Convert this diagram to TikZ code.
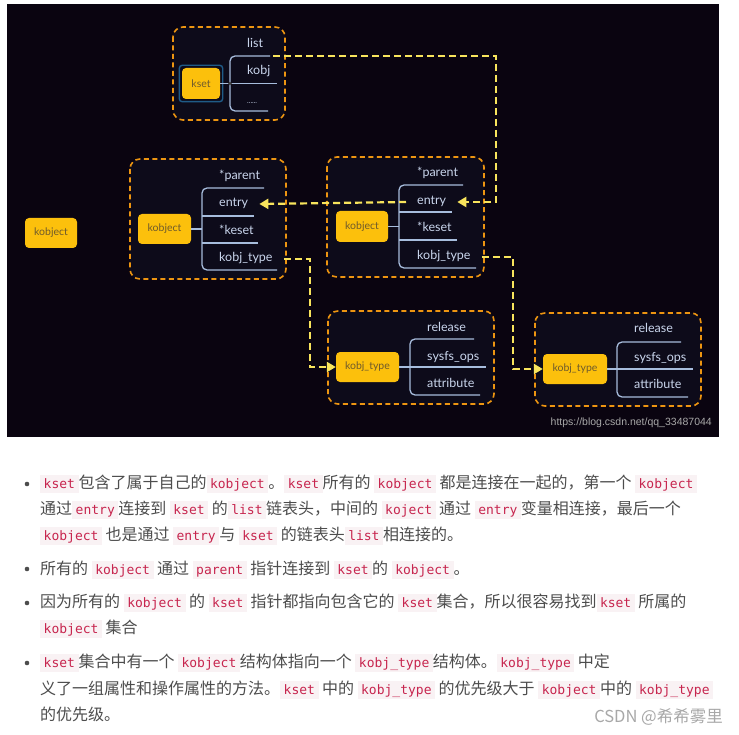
\documentclass[tikz,border=0pt]{standalone}
\usepackage{fontspec}
\setmainfont{Noto Sans CJK SC}
\setmonofont{DejaVu Sans Mono}
\newfontfamily\diagfont{Lato}
\newfontfamily\urlfont{Liberation Sans}
\usetikzlibrary{arrows.meta}

\definecolor{bgdark}{HTML}{0A0410}
\definecolor{grpfill}{HTML}{0D0B1A}
\definecolor{grporange}{HTML}{ED9511}
\definecolor{itemyellow}{HTML}{FCC00C}
\definecolor{itemtext}{HTML}{6E5A2C}
\definecolor{treeblue}{HTML}{A7BDDD}
\definecolor{fieldtext}{HTML}{C9D5EC}
\definecolor{linkyellow}{HTML}{F8E45C}
\definecolor{selblue}{HTML}{1F5B87}
\definecolor{bodytext}{HTML}{4D4D4D}
\definecolor{codebg}{HTML}{F9F2F4}
\definecolor{codefg}{HTML}{C7254E}
\definecolor{wmgray}{HTML}{A8A8A8}

\newcommand{\codeword}[1]{{\setlength{\fboxsep}{0pt}\colorbox{codebg}{\hspace{3.5pt}\rule[-4.5pt]{0pt}{18pt}\textcolor{codefg}{\ttfamily\fontsize{13}{14}\selectfont #1}\hspace{3.5pt}}}}

\begin{document}
\begin{tikzpicture}[x=1pt, y=-1pt,
    group/.style={draw=grporange, fill=grpfill, line width=1.6pt, dash pattern=on 5pt off 3.5pt, rounded corners=10pt},
    item/.style={fill=itemyellow, text=itemtext, rounded corners=4pt, inner sep=0pt, font=\diagfont\fontsize{10.5}{12}\selectfont},
    field/.style={anchor=west, text=fieldtext, inner sep=1pt, text height=9pt, text depth=3pt, font=\diagfont\fontsize{12.5}{14}\selectfont},
    tree/.style={draw=treeblue, line width=1.3pt, rounded corners=5pt},
    link/.style={draw=linkyellow, line width=2.2pt, dash pattern=on 7pt off 4pt, -{Triangle[length=9pt,width=10pt]}},
    line/.style={anchor=west, text=bodytext, inner sep=0pt, text height=14pt, text depth=2pt, font=\fontsize{16}{20}\selectfont}]
    \useasboundingbox (0,0) rectangle (739,735);
    \fill[white] (0,0) rectangle (739,735);
    \fill[bgdark] (7,4) rectangle (719,437);

    % kset
    \draw[group] (173,27) rectangle (285,120);
    \node[item, minimum width=38, minimum height=31] (ks) at (201,83.5) {kset};
    \draw[selblue, line width=1.4pt, rounded corners=3pt] ([shift={(-2.5,-2.5)}]ks.north west) rectangle ([shift={(2.5,2.5)}]ks.south east);
    \draw[tree] (ks.east) -- (230,83.5);
    \draw[tree] (270,56) -- (230,56) -- (230,111) -- (268,111);
    \draw[tree] (230,83.5) -- (277,83.5);
    \fill[black!75] (230,83.5) circle (1.8);
    \node[field] (ks-list) at (246,45) {list};
    \node[field] (ks-kobj) at (246,72) {kobj};
    \node[field, font=\diagfont\fontsize{7}{8}\selectfont] (ks-dots) at (246,101) {......};
    \coordinate (ks-head) at (273,56);

    % lone kobject
    \node[item, minimum width=52, minimum height=30] (lone) at (51,233) {kobject};

    % left kobject
    \draw[group] (130,159) rectangle (286,279);
    \node[item, minimum width=53, minimum height=30] (ko) at (164.5,229) {kobject};
    \draw[tree] (ko.east) -- (202,229);
    \draw[tree] (264,188) -- (202,188) -- (202,270) -- (277,270);
    \foreach \y/\x in {216/254, 243/258}
        \draw[tree] (202,\y) -- (\x,\y);
    \node[field] (ko-parent) at (218,177) {*parent};
    \node[field] (ko-entry) at (218,204) {entry};
    \node[field] (ko-keset) at (218,232) {*keset};
    \node[field] (ko-type) at (218,259) {kobj\_type};

    % middle kobject
    \draw[group] (327,157) rectangle (484,277);
    \node[item, minimum width=52, minimum height=31] (mo) at (362,226.5) {kobject};
    \draw[tree] (mo.east) -- (399,226.5);
    \draw[tree] (463,185) -- (399,185) -- (399,268) -- (476,268);
    \foreach \y/\x in {212/452, 240/457}
        \draw[tree] (399,\y) -- (\x,\y);
    \node[field] (mo-parent) at (416,174) {*parent};
    \node[field] (mo-entry) at (416,202) {entry};
    \node[field] (mo-keset) at (416,229) {*keset};
    \node[field] (mo-type) at (416,257) {kobj\_type};

    % kobj_type
    \draw[group] (328,311) rectangle (494,404);
    \node[item, minimum width=63, minimum height=30] (kt1) at (367.5,367) {kobj\_type};
    \draw[tree] (kt1.east) -- (410,367);
    \draw[tree] (474,339) -- (410,339) -- (410,395) -- (480,395);
    \draw[tree] (410,367) -- (486,367);
    \node[field] (kt1-rel) at (426,328) {release};
    \node[field] (kt1-ops) at (426,357) {sysfs\_ops};
    \node[field] (kt1-attr) at (426,384) {attribute};

    \draw[group] (535,313) rectangle (701,406);
    \node[item, minimum width=64, minimum height=30] (kt2) at (575,369) {kobj\_type};
    \draw[tree] (kt2.east) -- (617,369);
    \draw[tree] (681,342) -- (617,342) -- (617,397) -- (688,397);
    \draw[tree] (617,369) -- (693,369);
    \node[field] (kt2-rel) at (633,330) {release};
    \node[field] (kt2-ops) at (633,358) {sysfs\_ops};
    \node[field] (kt2-attr) at (633,385) {attribute};

    % links
    \draw[link] (ks-head) -- (496,56) |- ([xshift=10pt]mo-entry.east);
    \draw[link] ([xshift=-10pt]mo-entry.west) -- ([xshift=10pt]ko-entry.east);
    \draw[link] ([xshift=10pt]ko-type.east) -- ++(26,0) |- (kt1.west);
    \draw[link] ([xshift=10pt]mo-type.east) -- ++(31,0) |- (kt2.west);

    \node[anchor=east, text=wmgray, inner sep=0pt, font=\urlfont\fontsize{10.5}{12}\selectfont] (url) at (712,423) {https://blog.csdn.net/qq\_33487044};

    % notes
    \foreach \y in {484,569,603,663}
        \fill[bodytext] (27,\y) circle (2.3);
    \node[line] (l1) at (40,482) {\codeword{kset}包含了属于自己的\codeword{kobject}。\codeword{kset}所有的 \codeword{kobject} 都是连接在一起的，第一个 \codeword{kobject}};
    \node[line] (l2) at (40,508) {通过\codeword{entry}连接到 \codeword{kset} 的\codeword{list}链表头，中间的 \codeword{koject} 通过 \codeword{entry}变量相连接，最后一个};
    \node[line] (l3) at (40,534) {\codeword{kobject} 也是通过 \codeword{entry}与 \codeword{kset} 的链表头\codeword{list}相连接的。};
    \node[line] (l4) at (40,568) {所有的 \codeword{kobject} 通过 \codeword{parent} 指针连接到 \codeword{kset}的 \codeword{kobject}。};
    \node[line] (l5) at (40,601) {因为所有的 \codeword{kobject} 的 \codeword{kset} 指针都指向包含它的 \codeword{kset}集合，所以很容易找到\codeword{kset} 所属的};
    \node[line] (l6) at (40,627) {\codeword{kobject} 集合};
    \node[line] (l7) at (40,661) {\codeword{kset}集合中有一个 \codeword{kobject}结构体指向一个 \codeword{kobj\_type}结构体。\codeword{kobj\_type} 中定};
    \node[line] (l8) at (40,688) {义了一组属性和操作属性的方法。\codeword{kset} 中的 \codeword{kobj\_type} 的优先级大于 \codeword{kobject}中的 \codeword{kobj\_type}};
    \node[line] (l9) at (40,714) {的优先级。};
    \node[anchor=east, text=wmgray, inner sep=0pt, font=\fontsize{16.5}{18}\selectfont] (csdn) at (723,717) {CSDN @希希雾里};
\end{tikzpicture}
\end{document}
